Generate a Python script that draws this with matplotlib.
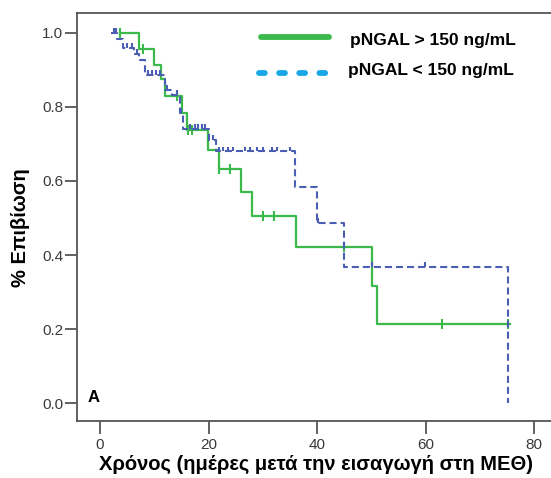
import numpy as np
import matplotlib
matplotlib.use("Agg")
import matplotlib.pyplot as plt

# ---- data ----
# pNGAL > 150 ng/mL (green, solid)
green_times = [3.7, 7.2, 10.0, 11.2, 12.0, 15.1, 16.0, 19.9, 21.9, 26.0, 28.0, 36.1, 50.1, 51.1, 75.6]
green_surv = [1.0, 0.957, 0.914, 0.875, 0.830, 0.784, 0.738, 0.684, 0.632, 0.570, 0.505, 0.422, 0.316, 0.213, 0.213]
green_censor = [3.7, 7.9, 14.2, 16.2, 16.9, 21.9, 24.0, 30.0, 32.1, 45.0, 63.0, 75.2]

# pNGAL < 150 ng/mL (blue, dashed)
blue_times = [2.0, 3.2, 4.3, 6.2, 7.2, 8.2, 12.0, 13.3, 14.7, 15.3, 20.1, 21.4, 35.9, 40.0, 45.0, 75.2]
blue_surv = [1.0, 0.985, 0.96, 0.943, 0.927, 0.886, 0.846, 0.832, 0.784, 0.74, 0.71, 0.68, 0.584, 0.486, 0.368, 0.0]
blue_censor = [2.6, 3.0, 5.0, 5.9, 6.8, 8.9, 9.6, 10.3, 11.0, 12.3, 14.2, 14.9, 16.6, 17.5, 18.1, 18.8,
               19.4, 20.8, 21.9, 22.7, 23.6, 24.5, 26.7, 27.6, 28.9, 30.0, 31.7, 32.6, 35.0, 40.2, 50.1, 59.9]

x_ticks = [0, 20, 40, 60, 80]
y_ticks = [0.0, 0.2, 0.4, 0.6, 0.8, 1.0]
legend_labels = ["pNGAL > 150 ng/mL", "pNGAL < 150 ng/mL"]
xlabel = "Χρόνος (ημέρες μετά την εισαγωγή στη ΜΕΘ)"
ylabel = "% Επιβίωση"
panel = "A"

GREEN = "#3cb94b"
BLUE = "#4a5fb4"
LEG_BLUE = "#1aa7e8"
SPINE = "#555555"

plt.rcParams['font.family'] = ['Liberation Sans', 'DejaVu Sans']

fig = plt.figure(figsize=(5.51, 4.78), dpi=100)
ax = fig.add_axes([77 / 551, 1 - 421 / 478, 1 - 77 / 551, (421 - 13) / 478])


def level(times, surv, t):
    i = np.searchsorted(times, t, side='right') - 1
    return np.asarray(surv)[np.clip(i, 0, len(surv) - 1)]


# green curve
ax.step(green_times, green_surv, where='post', color=GREEN, lw=1.6, zorder=3)
gl = level(green_times, green_surv, green_censor)
ax.vlines(green_censor, gl - 0.014, gl + 0.014, color=GREEN, lw=1.5, zorder=3)

# blue curve
ax.step(blue_times, blue_surv, where='post', color=BLUE, lw=1.5, dashes=(3.4, 1.9), zorder=4)
bl = level(blue_times, blue_surv, blue_censor)
ax.vlines(blue_censor, bl, bl + 0.013, color=BLUE, lw=1.5, zorder=4)

ax.set_xlim(-4.24, 83.1)
ax.set_ylim(-0.0486, 1.054)
ax.set_xticks(x_ticks)
ax.set_yticks(y_ticks)
ax.set_yticklabels([f"{v:.1f}" for v in y_ticks])

for s in ['left', 'bottom', 'top']:
    ax.spines[s].set_color(SPINE)
    ax.spines[s].set_linewidth(1.3)
ax.spines['right'].set_visible(False)
ax.tick_params(axis='both', length=9, width=1.3, color=SPINE, labelcolor='#3a3a3a', labelsize=11)
ax.tick_params(axis='y', pad=1)
ax.tick_params(axis='x', pad=3)

ax.set_xlabel(xlabel, fontsize=14.5, fontweight='bold', color='black')
ax.xaxis.set_label_coords(0.505, -0.083)
ax.set_ylabel(ylabel, fontsize=14.5, fontweight='bold', color='black')
ax.yaxis.set_label_coords(-0.100, 0.473)

ax.text(-2.2, 0.016, panel, fontsize=12, fontweight='bold', ha='left', va='center')

# legend (drawn manually)
ax.plot([0.388, 0.532], [0.941, 0.941], transform=ax.transAxes, color=GREEN, lw=4.2,
        solid_capstyle='round')
ax.plot([0.384, 0.532], [0.853, 0.853], transform=ax.transAxes, color=LEG_BLUE, lw=4.2,
        dashes=(1.0, 2.45), dash_capstyle='round')
ax.text(0.576, 0.933, legend_labels[0], transform=ax.transAxes, fontsize=12.5,
        fontweight='bold', ha='left', va='center')
ax.text(0.572, 0.860, legend_labels[1], transform=ax.transAxes, fontsize=12.5,
        fontweight='bold', ha='left', va='center')

fig.savefig("out.png", dpi=100)
